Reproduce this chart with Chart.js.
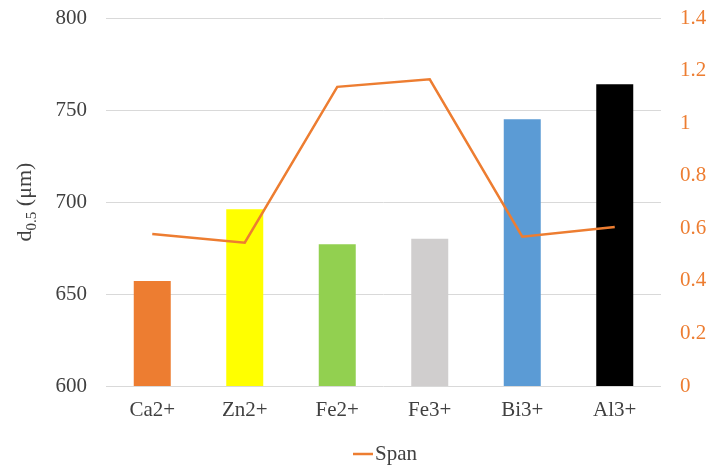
<!DOCTYPE html>
<html>
<head>
<meta charset="utf-8">
<script src="https://cdn.jsdelivr.net/npm/chart.js"></script>
<style>
    html, body { margin: 0; padding: 0; background: #fff; }
    .container { position: relative; width: 709px; height: 468px; }
</style>
</head>
<body>
<div class="container">
    <canvas id="myChart"></canvas>
</div>
<script>
const categories = ['Ca2+', 'Zn2+', 'Fe2+', 'Fe3+', 'Bi3+', 'Al3+'];
const d50 = [657, 696, 677, 680, 745, 764];
const span = [0.578, 0.545, 1.138, 1.167, 0.568, 0.605];
const barColors = ['#ED7D31', '#FFFF00', '#92D050', '#D0CECE', '#5B9BD5', '#000000'];
const leftRange = [600, 800, 50];
const rightRange = [0, 1.4, 0.2];

const textColor = '#404040';
const orange = '#ED7D31';
const serif = "'Liberation Serif', 'Times New Roman', serif";

// rotated axis title with a subscript: d0.5 (μm)
const yTitle = {
    id: 'yTitle',
    afterDraw(chart) {
        const ctx = chart.ctx;
        const area = chart.chartArea;
        const parts = [
            { text: 'd', size: 22, shift: 0 },
            { text: '0.5', size: 15, shift: 5 },
            { text: ' (\u03bcm)', size: 22, shift: 0 }
        ];
        ctx.save();
        let total = 0;
        parts.forEach(p => {
            ctx.font = `${p.size}px ${serif}`;
            p.w = ctx.measureText(p.text).width;
            total += p.w;
        });
        ctx.translate(31, (area.top + area.bottom) / 2);
        ctx.rotate(-Math.PI / 2);
        ctx.fillStyle = textColor;
        ctx.textAlign = 'left';
        ctx.textBaseline = 'alphabetic';
        let x = -total / 2;
        parts.forEach(p => {
            ctx.font = `${p.size}px ${serif}`;
            ctx.fillText(p.text, x, p.shift);
            x += p.w;
        });
        ctx.restore();
    }
};

// legend for the line series, short stroke right before the label
const spanLegend = {
    id: 'spanLegend',
    afterDraw(chart) {
        const ctx = chart.ctx;
        const ds = chart.data.datasets[0];
        const y = 454;
        ctx.save();
        ctx.strokeStyle = ds.borderColor;
        ctx.lineWidth = 2.5;
        ctx.beginPath();
        ctx.moveTo(353, y);
        ctx.lineTo(373, y);
        ctx.stroke();
        ctx.font = `21px ${serif}`;
        ctx.fillStyle = textColor;
        ctx.textAlign = 'left';
        ctx.textBaseline = 'middle';
        ctx.fillText(ds.label, 375, y);
        ctx.restore();
    }
};

function noPad(scale) {
    scale.paddingTop = 0;
    scale.paddingBottom = 0;
    scale.paddingLeft = 0;
    scale.paddingRight = 0;
}

Chart.defaults.font.family = serif;
Chart.defaults.font.size = 21;
Chart.defaults.color = textColor;

new Chart(document.getElementById('myChart'), {
    data: {
        labels: categories,
        datasets: [{
            type: 'line',
            label: 'Span',
            data: span,
            yAxisID: 'y1',
            borderColor: orange,
            backgroundColor: orange,
            borderWidth: 2.5,
            pointRadius: 0,
            tension: 0,
            order: 0
        }, {
            type: 'bar',
            label: 'd0.5',
            data: d50,
            yAxisID: 'y',
            backgroundColor: barColors,
            borderWidth: 0,
            categoryPercentage: 1,
            barPercentage: 0.4,
            order: 1
        }]
    },
    options: {
        responsive: true,
        maintainAspectRatio: false,
        animation: false,
        layout: { padding: { top: 18, bottom: 0 } },
        scales: {
            x: {
                grid: { display: false, drawTicks: false },
                border: { display: false },
                ticks: { padding: 12, color: textColor },
                afterFit(scale) { scale.height = 82; noPad(scale); }
            },
            y: {
                position: 'left',
                min: leftRange[0],
                max: leftRange[1],
                grid: { color: '#d9d9d9', lineWidth: 1, drawTicks: false },
                border: { display: false },
                ticks: { stepSize: leftRange[2], padding: 19, color: textColor },
                afterFit(scale) { scale.width = 106; noPad(scale); }
            },
            y1: {
                position: 'right',
                min: rightRange[0],
                max: rightRange[1],
                grid: { display: false, drawTicks: false },
                border: { display: false },
                ticks: {
                    stepSize: rightRange[2],
                    padding: 19,
                    color: orange,
                    callback: v => String(Math.round(v * 10) / 10)
                },
                afterFit(scale) { scale.width = 48; noPad(scale); }
            }
        },
        plugins: {
            legend: { display: false },
            tooltip: { enabled: false }
        }
    },
    plugins: [yTitle, spanLegend]
});
</script>
</body>
</html>
